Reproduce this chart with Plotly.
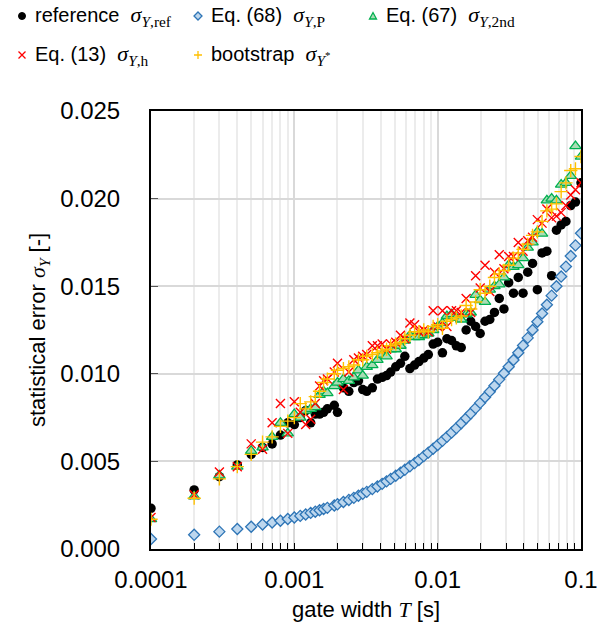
import plotly.graph_objects as go

# -----------------------------
# DATA
# -----------------------------

gate_width = [
    0.0001, 0.0002, 0.0003, 0.0004, 0.0005, 0.0006, 0.0007, 0.0008, 0.0009, 0.0010,
    0.0011, 0.0012, 0.0013, 0.0014, 0.0015, 0.0016, 0.0017, 0.0019, 0.0020, 0.0022,
    0.0024, 0.0026, 0.0028, 0.0030, 0.0032, 0.0035, 0.0038, 0.0041, 0.0044, 0.0047,
    0.0051, 0.0055, 0.0059, 0.0064, 0.0069, 0.0074, 0.0080, 0.0086, 0.0093, 0.0100,
    0.0108, 0.0116, 0.0125, 0.0135, 0.0146, 0.0158, 0.0170, 0.0184, 0.0198, 0.0214,
    0.0231, 0.0249, 0.0269, 0.0290, 0.0313, 0.0338, 0.0365, 0.0394, 0.0425, 0.0459,
    0.0496, 0.0535, 0.0578, 0.0624, 0.0674, 0.0727, 0.0785, 0.0848, 0.0915, 0.1000,
]

sigma_ref = [
    0.00232, 0.00337, 0.00413, 0.0048, 0.0054, 0.0058, 0.0060, 0.0065, 0.0072, 0.0071,
    0.0075, 0.0079, 0.0072, 0.0077, 0.0077, 0.0078, 0.0080, 0.0082, 0.0078, 0.0092,
    0.0090, 0.0095, 0.0096, 0.0091, 0.0090, 0.0092, 0.0097, 0.0098, 0.0099, 0.0101,
    0.0104, 0.0106, 0.0110, 0.0103, 0.0105, 0.0107, 0.0109, 0.0111, 0.0117, 0.0118,
    0.0112, 0.0120, 0.0119, 0.0116, 0.0115, 0.0125, 0.0130, 0.0127, 0.0123, 0.0130,
    0.0131, 0.0135, 0.0143, 0.0137, 0.0152, 0.0146, 0.0155, 0.0146, 0.0158, 0.0163,
    0.0148, 0.0169, 0.0170, 0.0156, 0.0182, 0.0185, 0.0187, 0.0196, 0.0198, 0.0209,
]

sigma_p = [
    0.00057, 0.00081, 0.00099, 0.00114, 0.00127, 0.00140, 0.00151, 0.00161, 0.00171, 0.00180,
    0.00189, 0.00197, 0.00206, 0.00213, 0.00221, 0.00228, 0.00235, 0.00248, 0.00255, 0.00268,
    0.00280, 0.00292, 0.00304, 0.00315, 0.00326, 0.00342, 0.00357, 0.00372, 0.00386, 0.00400,
    0.00418, 0.00435, 0.00452, 0.00472, 0.00490, 0.00508, 0.00530, 0.00550, 0.00572, 0.00594,
    0.00617, 0.00640, 0.00664, 0.00690, 0.00718, 0.00746, 0.00773, 0.00804, 0.00834, 0.00866,
    0.00898, 0.00932, 0.00968, 0.01003, 0.01040, 0.01079, 0.01120, 0.01162, 0.01205, 0.01250,
    0.01297, 0.01344, 0.01394, 0.01446, 0.01500, 0.01555, 0.01612, 0.01672, 0.01733, 0.01802,
]

sigma_2nd = [
    0.0017, 0.0030, 0.0042, 0.0047, 0.0056, 0.0058, 0.0064, 0.0072, 0.0066, 0.0077,
    0.0075, 0.0079, 0.0080, 0.0081, 0.0088, 0.0090, 0.0089, 0.0093, 0.0095, 0.0097,
    0.0096, 0.0098, 0.0102, 0.0099, 0.0104, 0.0105, 0.0108, 0.0111, 0.0110, 0.0114,
    0.0114, 0.0116, 0.0119, 0.0122, 0.0121, 0.0121, 0.0122, 0.0123, 0.0125, 0.0127,
    0.0129, 0.0133, 0.0134, 0.0132, 0.0131, 0.0134, 0.0135, 0.0145, 0.0142, 0.0141,
    0.0148, 0.0150, 0.0151, 0.0155, 0.0162, 0.0161, 0.0162, 0.0166, 0.0172, 0.0175,
    0.0181, 0.0180, 0.0199, 0.0200, 0.0199, 0.0208, 0.0209, 0.0213, 0.0230, 0.0224,
]

sigma_h = [
    0.0018, 0.0031, 0.0044, 0.0047, 0.0060, 0.0057, 0.0072, 0.0083, 0.0066, 0.0084,
    0.0078, 0.0071, 0.0074, 0.0083, 0.0093, 0.0096, 0.0097, 0.0101, 0.0106, 0.0091,
    0.0101, 0.0108, 0.0109, 0.0110, 0.0111, 0.0116, 0.0116, 0.0117, 0.0114, 0.0117,
    0.0118, 0.0122, 0.0120, 0.0129, 0.0128, 0.0124, 0.0125, 0.0124, 0.0136, 0.0127,
    0.0136, 0.0127, 0.0136, 0.0136, 0.0135, 0.0143, 0.0135, 0.0156, 0.0149, 0.0162,
    0.0147, 0.0158, 0.0168, 0.0160, 0.0167, 0.0167, 0.0175, 0.0170, 0.0176, 0.0178,
    0.0188, 0.0186, 0.0194, 0.0189, 0.0190, 0.0192, 0.0196, 0.0202, 0.0205, 0.0209,
]

sigma_boot = [
    0.0017, 0.0029, 0.0040, 0.0047, 0.0054, 0.0061, 0.0064, 0.0070, 0.0073, 0.0075,
    0.0083, 0.0080, 0.0084, 0.0087, 0.0090, 0.0095, 0.0097, 0.0100, 0.0102, 0.0103,
    0.0104, 0.0105, 0.0108, 0.0108, 0.0110, 0.0111, 0.0112, 0.0113, 0.0114, 0.0116,
    0.0117, 0.0118, 0.0120, 0.0122, 0.0124, 0.0124, 0.0125, 0.0124, 0.0127, 0.0128,
    0.0126, 0.0130, 0.0131, 0.0132, 0.0133, 0.0139, 0.0137, 0.0141, 0.0148, 0.0146,
    0.0150, 0.0155, 0.0157, 0.0159, 0.0162, 0.0166, 0.0169, 0.0171, 0.0174, 0.0179,
    0.0181, 0.0187, 0.0193, 0.0194, 0.0197, 0.0204, 0.0209, 0.0216, 0.0217, 0.0224,
]

x_tickvals = [0.0001, 0.001, 0.01, 0.1]
x_ticktext = ["0.0001", "0.001", "0.01", "0.1"]
x_minor = [m * d for d in (0.0001, 0.001, 0.01) for m in range(2, 10)]

# -----------------------------
# STYLE
# -----------------------------

W, H = 603, 641
ML, MR, MT, MB = 151, 22, 111, 92
PW, PH = W - ML - MR, H - MT - MB

SANS = "Arial, Liberation Sans, sans-serif"
MATH = "font-family:'Liberation Serif', 'DejaVu Serif', serif; font-size:22px"
SP = "\u00a0\u00a0"


def sym(sub):
    return f'<span style="{MATH}"><i>σ</i><sub>{sub}</sub></span>'


def px_x(p):
    # screen pixel -> paper x
    return (p - ML) / PW


def px_y(p):
    # screen pixel -> paper y
    return (H - MB - p) / PH


# name, values, legend label, legend position (screen px)
series = [
    ("reference", sigma_ref, "reference" + SP + sym("<i>Y</i>,ref"), (22, 16)),
    ("Eq. (68)", sigma_p, "Eq. (68)" + SP + sym("<i>Y</i>,P"), (198, 16)),
    ("Eq. (67)", sigma_2nd, "Eq. (67)" + SP + sym("<i>Y</i>,2nd"), (373, 16)),
    ("Eq. (13)", sigma_h, "Eq. (13)" + SP + sym("<i>Y</i>,h"), (22, 55)),
    ("bootstrap", sigma_boot, "bootstrap" + SP + sym("<i>Y</i><sup>*</sup>"), (198, 55)),
]

markers = {
    "reference": dict(symbol="circle", size=9.5, color="black"),
    "Eq. (68)": dict(symbol="diamond", size=8.5, color="#bdd7ee",
                     line=dict(color="#2e75b6", width=1.3)),
    "Eq. (67)": dict(symbol="triangle-up", size=10, color="#a9dcb5",
                     line=dict(color="#00b050", width=1.3)),
    "Eq. (13)": dict(symbol="x-thin", size=9, color="#ff0000",
                     line=dict(color="#ff0000", width=1.4)),
    "bootstrap": dict(symbol="cross-thin", size=9.5, color="#ffc000",
                      line=dict(color="#ffc000", width=1.4)),
}

legend_shapes = {
    "reference": dict(type="circle", x0=-3.5, x1=3.5, y0=-3.5, y1=3.5,
                      fillcolor="black", line=dict(color="black", width=1)),
    "Eq. (68)": dict(type="path", path="M 0,4 L 4,0 L 0,-4 L -4,0 Z",
                     fillcolor="#bdd7ee", line=dict(color="#2e75b6", width=1.3)),
    "Eq. (67)": dict(type="path", path="M -3.5,-3 L 3.5,-3 L 0,3.5 Z",
                     fillcolor="#a9dcb5", line=dict(color="#00b050", width=1.3)),
    "Eq. (13)": dict(type="path", path="M -3.5,-3.5 L 3.5,3.5 M -3.5,3.5 L 3.5,-3.5",
                     line=dict(color="#ff0000", width=1.3)),
    "bootstrap": dict(type="path", path="M -4,0 L 4,0 M 0,-4 L 0,4",
                      line=dict(color="#ffc000", width=1.3)),
}

# -----------------------------
# FIGURE
# -----------------------------

fig = go.Figure()

for key, values, label, (lx, ly) in series:
    fig.add_trace(go.Scatter(
        x=gate_width, y=values, mode="markers", name=key,
        marker=markers[key], showlegend=False,
    ))
    shp = dict(legend_shapes[key])
    shp.update(xref="paper", yref="paper", xsizemode="pixel", ysizemode="pixel",
               xanchor=px_x(lx), yanchor=px_y(ly), layer="above")
    fig.add_shape(**shp)
    fig.add_annotation(
        x=px_x(lx + 12), y=px_y(ly), xref="paper", yref="paper",
        xanchor="left", yanchor="middle", showarrow=False, borderpad=0,
        text=label, font=dict(size=20, family=SANS, color="black"),
    )

fig.update_layout(
    width=W, height=H,
    paper_bgcolor="white", plot_bgcolor="white",
    font=dict(family=SANS, size=21, color="black"),
    margin=dict(l=ML, r=MR, t=MT, b=MB),
    showlegend=False,
    xaxis=dict(
        type="log", range=[-4, -1], automargin=False,
        tickvals=x_tickvals, ticktext=x_ticktext,
        ticks="inside", ticklen=6, tickcolor="black",
        showline=True, linecolor="black", linewidth=2, mirror=True,
        showgrid=True, gridcolor="#d9d9d9", gridwidth=2,
        minor=dict(tickvals=x_minor, ticks="inside", ticklen=6,
                   tickcolor="black", showgrid=True,
                   gridcolor="#ececec", gridwidth=1.5),
        tickfont=dict(size=24), ticklabelstandoff=8,
        title=dict(text="gate width " + '<span style="' + MATH + '"><i>T</i></span>' + " [s]",
                   font=dict(size=22), standoff=10),
        zeroline=False,
    ),
    yaxis=dict(
        range=[0, 0.025], dtick=0.005, tickformat=".3f", automargin=False,
        ticks="inside", ticklen=7, tickcolor="#555555",
        showline=True, linecolor="black", linewidth=2, mirror=True,
        showgrid=True, gridcolor="#d9d9d9", gridwidth=2,
        tickfont=dict(size=24), ticklabelstandoff=24,
        title=dict(text="statistical error " + sym("<i>Y</i>") + " [-]",
                   font=dict(size=22), standoff=8),
        zeroline=False,
    ),
)

# drop the browser's default body margin so the figure sits at the page corner
fig.write_html("out.html", config={"displayModeBar": False},
               post_script="document.body.style.margin = '0';")
